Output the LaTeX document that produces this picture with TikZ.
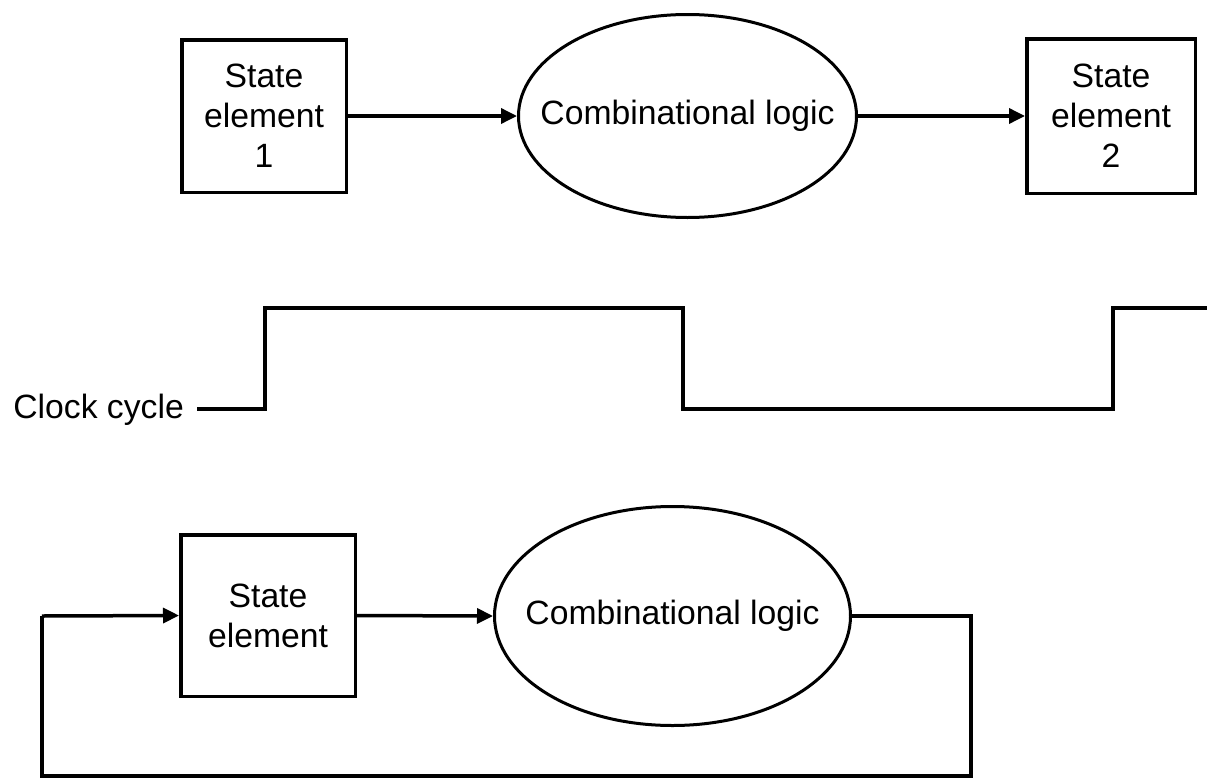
\documentclass[tikz,border=0pt]{standalone}
\usepackage{fontspec}
\setmainfont{Liberation Sans}
\usetikzlibrary{shapes.geometric,arrows.meta}
\begin{document}
\begin{tikzpicture}[x=1pt,y=-1pt,
  every node/.style={font=\fontsize{33.7}{40}\selectfont},
  stbox/.style={draw, line width=3.5pt, rectangle, inner sep=0pt, align=center},
  logic/.style={draw, line width=3pt, ellipse, inner sep=0pt},
  wire/.style={line width=3.5pt},
  arr/.style={wire, -{Triangle[length=16pt,width=15pt]}}]
\useasboundingbox (0,0) rectangle (1207,779);
% top row
\node[stbox, minimum width=164.5pt, minimum height=152.5pt] (se1) at (264,116) {State\\element\\1};
\node[logic, minimum width=338pt, minimum height=203pt] (cl1) at (687.5,116) {\makebox[0pt]{Combinational logic}};
\node[stbox, minimum width=168.5pt, minimum height=154.5pt] (se2) at (1111,116) {State\\element\\2};
\draw[arr] (se1.east) -- (cl1.west);
\draw[arr] (cl1.east) -- (se2.west);
% clock
\node[anchor=base east, inner sep=0pt] (clk) at (184,418) {Clock cycle};
\coordinate (c0) at (197,409);
\coordinate (c1) at (265,409);
\coordinate (c2) at (265,308);
\coordinate (c3) at (683,308);
\coordinate (c4) at (683,409);
\coordinate (c5) at (1113,409);
\coordinate (c6) at (1113,308);
\coordinate (c7) at (1210,308);
\draw[wire] (c0) -- (c1) -- (c2) -- (c3) -- (c4) -- (c5) -- (c6) -- (c7);
% bottom row
\node[stbox, minimum width=174.5pt, minimum height=161.5pt] (se3) at (268,615.5) {State\\element};
\node[logic, minimum width=356pt, minimum height=219pt] (cl2) at (672.5,616) {\makebox[0pt]{Combinational logic}};
\coordinate (fr) at (971,616);
\coordinate (frb) at (971,776);
\coordinate (flb) at (42,776);
\coordinate (fl) at (42,616);
\draw[arr] (se3.east) -- (cl2.west);
\draw[wire] (cl2.east) -- (fr) -- (frb) -- (flb) -- (fl);
\draw[arr] (fl) -- (se3.west);
\end{tikzpicture}
\end{document}
